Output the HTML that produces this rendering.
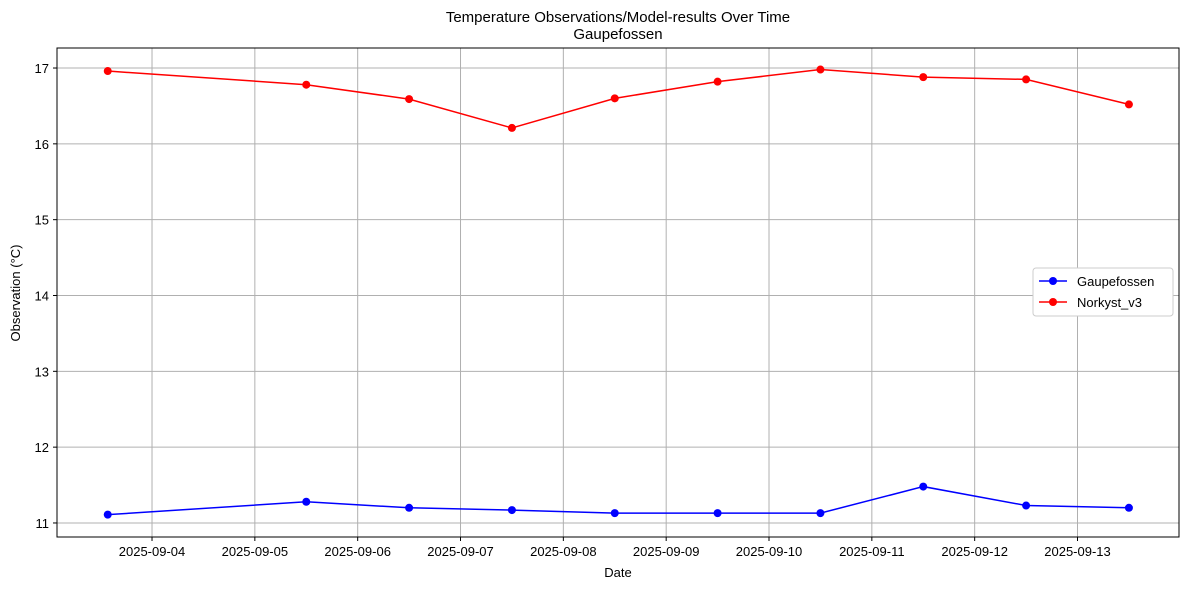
<!DOCTYPE html>
<html><head><meta charset="utf-8"><style>
body{margin:0;background:#fff;font-family:"Liberation Sans","DejaVu Sans",sans-serif;}
svg text{font-family:"Liberation Sans","DejaVu Sans",sans-serif;}
</style></head><body>
<svg id="chart" width="1189" height="590" xmlns="http://www.w3.org/2000/svg">
<rect width="1189" height="590" fill="#fff"/>
<text x="618" y="22" font-size="15" text-anchor="middle">Temperature Observations/Model-results Over Time</text>
<text x="618" y="39" font-size="15" text-anchor="middle">Gaupefossen</text>
<g id="grid"></g><g id="axes"></g><g id="series"></g>
<text x="618" y="577" font-size="13" text-anchor="middle">Date</text>
<text transform="translate(20,293) rotate(-90)" font-size="13" text-anchor="middle">Observation (°C)</text>
<g>
<rect x="1033" y="268" width="140" height="48" rx="3" fill="#fff" stroke="#ccc"/>
<line x1="1039" y1="281" x2="1067" y2="281" stroke="blue" stroke-width="1.5"/><circle cx="1053" cy="281" r="4" fill="blue"/>
<text x="1077" y="286" font-size="13">Gaupefossen</text>
<line x1="1039" y1="302" x2="1067" y2="302" stroke="red" stroke-width="1.5"/><circle cx="1053" cy="302" r="4" fill="red"/>
<text x="1077" y="307" font-size="13">Norkyst_v3</text>
</g>
</svg>
<script>
const dates = ["2025-09-03T13:40","2025-09-05T12:00","2025-09-06T12:00","2025-09-07T12:00","2025-09-08T12:00","2025-09-09T12:00","2025-09-10T12:00","2025-09-11T12:00","2025-09-12T12:00","2025-09-13T12:00"];
const obsValues = [11.11,11.28,11.20,11.17,11.13,11.13,11.13,11.48,11.23,11.20];
const modelValues = [16.96,16.78,16.59,16.21,16.60,16.82,16.98,16.88,16.85,16.52];
const xTickLabels = ["2025-09-04","2025-09-05","2025-09-06","2025-09-07","2025-09-08","2025-09-09","2025-09-10","2025-09-11","2025-09-12","2025-09-13"];
const yTickValues = [11,12,13,14,15,16,17];

const L=57,R=1179,T=48,B=537;
const day=86400000, t0=Date.parse("2025-09-04T00:00");
const xMin=-0.924, xMax=9.987, yMin=10.815, yMax=17.264;
const xs=d=>L+((Date.parse(d)-t0)/day-xMin)/(xMax-xMin)*(R-L);
const ys=v=>B-(v-yMin)/(yMax-yMin)*(B-T);
const NS="http://www.w3.org/2000/svg";
function mk(tag,attrs,parent){const e=document.createElementNS(NS,tag);for(const k in attrs)e.setAttribute(k,attrs[k]);parent.appendChild(e);return e;}
const grid=document.getElementById('grid'),axes=document.getElementById('axes'),ser=document.getElementById('series');
xTickLabels.forEach(lbl=>{const x=xs(lbl+"T00:00");
 const g=mk('line',{x1:x,x2:x,y1:T,y2:B,stroke:'#b0b0b0','stroke-width':1},grid);
 
 
 mk('line',{x1:x,x2:x,y1:B,y2:B+4,stroke:'#000'},axes);
 const t=mk('text',{x:x,y:B+19,'font-size':13,'text-anchor':'middle'},axes);t.textContent=lbl;
 
 });
yTickValues.forEach(v=>{const y=ys(v);
 const g=mk('line',{x1:L,x2:R,y1:y,y2:y,stroke:'#b0b0b0','stroke-width':1},grid);
 
 
 mk('line',{x1:L-4,x2:L,y1:y,y2:y,stroke:'#000'},axes);
 const t=mk('text',{x:L-8,y:y+5,'font-size':13,'text-anchor':'end'},axes);t.textContent=v;
 
 });
const frame=mk('rect',{x:L,y:T,width:R-L,height:B-T,fill:'none',stroke:'#000','stroke-width':1},axes);


function drawSeries(vals,color,name){
 const p=mk('polyline',{points:vals.map((v,i)=>xs(dates[i])+','+ys(v)).join(' '),fill:'none',stroke:color,'stroke-width':1.5},ser);
 
 
 vals.forEach((v,i)=>{const c=mk('circle',{cx:xs(dates[i]),cy:ys(v),r:4,fill:color},ser);
  
  });
}
drawSeries(obsValues,'blue','gaupefossen');
drawSeries(modelValues,'red','norkyst');
</script>
</body></html>
